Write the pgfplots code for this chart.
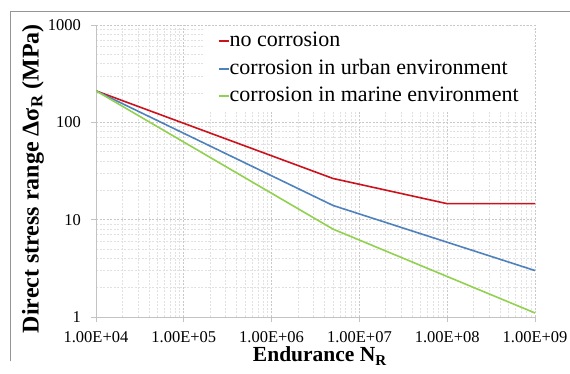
\documentclass[border=0pt]{standalone}
\usepackage{fontspec}
\setmainfont{Liberation Serif}
\usepackage{pgfplots}
\pgfplotsset{compat=1.18}

\definecolor{nocorr}{RGB}{204,18,28}
\definecolor{urban}{RGB}{79,129,189}
\definecolor{marine}{RGB}{146,208,80}
\definecolor{framegray}{RGB}{150,150,150}
\definecolor{axisgray}{RGB}{195,195,195}
\definecolor{majorgrid}{RGB}{200,200,200}
\definecolor{minorgrid}{RGB}{225,225,225}

\begin{document}
\begin{tikzpicture}[x=1pt,y=1pt]
\useasboundingbox (0,0) rectangle (570,374);
% chart area frame (top and left edges)
\draw[line width=0.9pt, color=framegray] (10.5,12.5) -- (10.5,362.5) -- (575,362.5);
\begin{axis}[
  at={(96pt,57pt)}, anchor=south west,
  scale only axis, width=439pt, height=292pt,
  xmode=log, ymode=log,
  xmin=1e4, xmax=1e9, ymin=1, ymax=1000,
  xtick={1e4,1e5,1e6,1e7,1e8,1e9},
  xticklabels={1.00E+04,1.00E+05,1.00E+06,1.00E+07,1.00E+08,1.00E+09},
  ytick={1,10,100,1000},
  yticklabels={1,10,100,1000},
  axis x line*=bottom, axis y line*=left,
  x axis line style={-, draw=axisgray, line width=0.8pt},
  y axis line style={-, draw=axisgray, line width=0.8pt},
  tick align=outside, major tick length=5pt,
  major tick style={draw=axisgray, line width=0.8pt},
  minor tick style={draw=none},
  grid=both,
  major grid style={draw=majorgrid, line width=0.7pt, dash pattern=on 2pt off 1.5pt},
  minor grid style={draw=minorgrid, line width=0.7pt, dash pattern=on 2pt off 1.5pt},
  ticklabel style={font=\fontsize{16.5}{19}\selectfont},
  xticklabel style={anchor=north, inner sep=0pt, yshift=-9.5pt},
  yticklabel style={anchor=east, inner sep=0pt, xshift=-10pt},
  xlabel={\textbf{Endurance N\textsubscript{R}}},
  ylabel={\textbf{Direct stress range Δσ\textsubscript{R} (MPa)}},
  xlabel style={font=\fontsize{21.5}{25}\selectfont, at={(axis description cs:0.51,0)}, anchor=base, inner sep=0pt, yshift=-45pt},
  ylabel style={font=\fontsize{24}{28}\selectfont, at={(axis description cs:0,0.474)}, anchor=center, inner sep=0pt, yshift=63pt},
  legend style={at={(axis description cs:0.248,0.998)}, anchor=north west,
    draw=none, fill=white, inner xsep=13pt, inner ysep=4pt,
    font=\fontsize{22}{27}\selectfont, row sep=4.5pt,
    nodes={inner sep=0pt, text height=17pt, text depth=6pt}},
  legend cell align=left,
  legend image code/.code={\draw[#1] (0pt,0pt) -- (10pt,0pt);},
  every axis plot/.append style={line width=1.6pt},
]
\addplot[nocorr] coordinates {(1e4,210.5) (5e6,26.5) (1e8,14.6) (1e9,14.6)};
\addlegendentry{no corrosion}
\addplot[urban] coordinates {(1e4,210.5) (5e6,14.0) (1e9,3.0)};
\addlegendentry{corrosion in urban environment}
\addplot[marine] coordinates {(1e4,210.5) (5e6,8.0) (1e9,1.1)};
\addlegendentry{corrosion in marine environment}
\end{axis}
\end{tikzpicture}
\end{document}
